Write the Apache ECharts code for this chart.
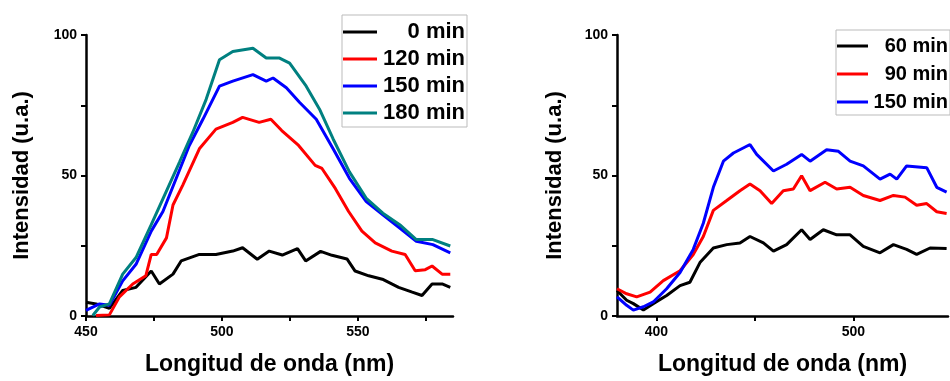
<!DOCTYPE html>
<html>
<head>
<meta charset="utf-8">
<script src="https://cdn.jsdelivr.net/npm/echarts@6/dist/echarts.min.js"></script>
<style>
  html, body { margin: 0; padding: 0; background: #fff; }
  #chart { width: 950px; height: 381px; }
</style>
</head>
<body>
<div id="chart"></div>
<script>
// left panel: [wavelength nm, intensity]
const min0 = [[450, 4.9], [453.7, 4.3], [458.6, 2.7], [463.5, 9.1], [468.4, 10.2], [474, 16], [477, 11.4], [482, 14.9], [485, 19.6], [491.7, 21.9], [497.8, 21.9], [504, 23.1], [507.6, 24.3], [513, 20.2], [517.4, 23.1], [522.2, 21.7], [527.8, 24], [530.8, 19.6], [536.3, 23], [540.5, 21.6], [546, 20.3], [549, 16], [554, 14.3], [559, 13.1], [565, 10.2], [570, 8.5], [573.6, 7.3], [577.3, 11.4], [581, 11.4], [584, 10.2]];
const min120 = [[453.7, 0.2], [458.6, 0.4], [462.3, 6.8], [467.2, 11.4], [472, 14.3], [474, 21.9], [476, 21.9], [479.6, 27.8], [482, 39.5], [485.6, 46.6], [491.7, 59.5], [497.8, 66.5], [504, 68.9], [507.6, 70.7], [513.7, 68.9], [518, 70], [522, 66], [528.2, 60.7], [534.3, 53.6], [536.8, 52.5], [541.7, 45.4], [546.6, 37.2], [551.5, 30.2], [556.4, 26], [562.5, 23.1], [567.4, 21.9], [571.1, 16.1], [574.8, 16.5], [577.3, 17.8], [581, 14.9], [584, 14.9]];
const min150a = [[450, 2], [455, 4.3], [458.6, 3.8], [463.5, 12.5], [468.4, 18.4], [474, 30.2], [478.3, 37.2], [483.2, 49], [488, 60.7], [493, 70], [499.1, 81.8], [504, 83.6], [511.4, 85.9], [516.3, 83.6], [518.8, 84.7], [523.7, 81.2], [528.6, 76], [534.7, 70], [540.9, 59.5], [546.9, 49], [553.1, 40.7], [559.2, 36], [565.4, 31.3], [571.5, 26.6], [577.6, 25.4], [584, 22.5]];
const min180 = [[452.5, 0.2], [455, 3.2], [458.6, 4.3], [463.5, 14.9], [468.4, 20.8], [474, 32.5], [479.5, 44.3], [484.4, 54.8], [489.3, 65.4], [494.2, 77.1], [499.1, 91.2], [504, 94.1], [511.4, 95.3], [516.3, 91.8], [521.2, 91.8], [524.9, 90], [531, 81.8], [535.9, 73.6], [540.9, 63], [546.9, 51.3], [553.1, 41.9], [559.2, 36.6], [565.4, 32.5], [571.5, 27.2], [577.6, 27.2], [584, 24.9]];

// right panel
const min60 = [[380, 9.1], [384.9, 5.6], [388.3, 4.4], [393.4, 2.1], [398.4, 4.4], [405.2, 7.3], [412, 10.8], [417, 12], [422.1, 19], [428.9, 24.2], [435.7, 25.4], [442.4, 26], [447.5, 28.3], [454.3, 26], [459.4, 23.1], [466.1, 25.4], [473.7, 30.7], [478, 27.2], [484.7, 30.7], [491.5, 28.9], [498.3, 28.9], [505, 24.8], [513.5, 22.5], [520.3, 25.4], [527, 23.7], [532.1, 21.9], [538.9, 24.2], [547.3, 24]];
const min90 = [[380, 9.7], [384.9, 7.9], [390, 6.8], [396.8, 8.5], [403.5, 12.6], [412, 16.1], [418.7, 21.9], [423.8, 28.3], [428.9, 37.6], [435.7, 41.1], [442.4, 44.6], [447.5, 47], [452.6, 44.6], [458.5, 40], [464.4, 44.6], [469.5, 45.2], [473.7, 49.9], [478, 44.6], [485.6, 47.6], [491.5, 45.2], [498.3, 45.8], [505, 42.9], [513.5, 41.1], [520.3, 42.9], [526.2, 42.3], [532.1, 39.4], [537.2, 40], [542.3, 37.1], [547.3, 36.5]];
const min150b = [[380, 6.8], [384.9, 3.8], [388.3, 2.1], [393.4, 3.3], [398.4, 5], [405.2, 9.7], [412, 15.5], [418.7, 23.7], [423.8, 33], [428.9, 45.8], [434, 55.1], [439.1, 58], [445.8, 60.4], [447.5, 61], [450.9, 57.5], [459.4, 51.6], [466.1, 54], [473.7, 57.5], [478, 55.1], [486.4, 59.2], [492.4, 58.6], [498.3, 55.1], [505, 53.4], [513.5, 48.7], [518.6, 50.5], [522, 48.7], [527, 53.4], [537.2, 52.8], [542.3, 45.8], [547.3, 44.1]];

const leftNames = ["0 min", "120 min", "150 min", "180 min"];
const rightNames = ["60 min", "90 min", "150 min"];
const yTicks = [0, 25, 50, 75, 100];
const yLabels = [0, 50, 100];
const leftXTicks = [450, 475, 500, 525, 550, 575];
const leftXLabels = [450, 500, 550];
const rightXTicks = [400, 450, 500];
const rightXLabels = [400, 500];

const FONT = 'Arial, "Liberation Sans", sans-serif';

function xAxis(idx, min, max, ticks, labels) {
  return {
    type: "value", gridIndex: idx, min: min, max: max,
    name: "Longitud de onda (nm)", nameLocation: "middle", nameGap: 37,
    nameTextStyle: { fontFamily: FONT, fontWeight: "bold", fontSize: 23, color: "#000" },
    axisLine: { onZero: false, lineStyle: { color: "#000", width: 2.5 } },
    axisTick: { customValues: ticks, length: 5, lineStyle: { color: "#000", width: 2 } },
    axisLabel: { customValues: labels, margin: 9, fontFamily: FONT, fontWeight: "bold", fontSize: 14, color: "#000" },
    splitLine: { show: false }
  };
}

function yAxis(idx, gap) {
  return {
    type: "value", gridIndex: idx, min: 0, max: 100,
    name: "Intensidad (u.a.)", nameLocation: "middle", nameGap: gap,
    nameTextStyle: { fontFamily: FONT, fontWeight: "bold", fontSize: 22, color: "#000" },
    axisLine: { show: true, lineStyle: { color: "#000", width: 2.5 } },
    axisTick: { customValues: yTicks, length: 5, lineStyle: { color: "#000", width: 2 } },
    axisLabel: { customValues: yLabels, margin: 9, fontFamily: FONT, fontWeight: "bold", fontSize: 14, color: "#000" },
    splitLine: { show: false }
  };
}

function line(name, idx, color, data) {
  return {
    name: name, type: "line", xAxisIndex: idx, yAxisIndex: idx,
    showSymbol: false, symbol: "none",
    lineStyle: { color: color, width: 3 },
    itemStyle: { color: color },
    data: data
  };
}

function legend(names, left, top, textW, fontSize, gap, iconW) {
  return {
    orient: "vertical", left: left, top: top, data: names,
    icon: "rect", itemWidth: iconW, itemHeight: 3, itemGap: gap,
    padding: [6, 2, 3, 1],
    borderColor: "#bbb", borderWidth: 1,
    formatter: function (n) { return "{a|" + n + "}"; },
    textStyle: {
      rich: { a: { width: textW, align: "right", fontFamily: FONT, fontWeight: "bold", fontSize: fontSize, color: "#000" } }
    }
  };
}

const chart = echarts.init(document.getElementById("chart"));
chart.setOption({
  animation: false,
  backgroundColor: "#fff",
  grid: [
    { left: 86, top: 35, width: 367, height: 284 },
    { left: 617, top: 35, width: 331, height: 286 }
  ],
  xAxis: [
    xAxis(0, 450, 585, leftXTicks, leftXLabels),
    xAxis(1, 380, 548, rightXTicks, rightXLabels)
  ],
  yAxis: [yAxis(0, 53), yAxis(1, 51)],
  legend: [
    legend(leftNames, 342, 15, 83, 22, 5, 34),
    legend(rightNames, 836, 30, 75, 20, 8, 31)
  ],
  series: [
    line("0 min", 0, "#000000", min0),
    line("120 min", 0, "#ff0000", min120),
    line("150 min", 0, "#0000ff", min150a),
    line("180 min", 0, "#008080", min180),
    line("60 min", 1, "#000000", min60),
    line("90 min", 1, "#ff0000", min90),
    line("150 min", 1, "#0000ff", min150b)
  ]
});
</script>
</body>
</html>
